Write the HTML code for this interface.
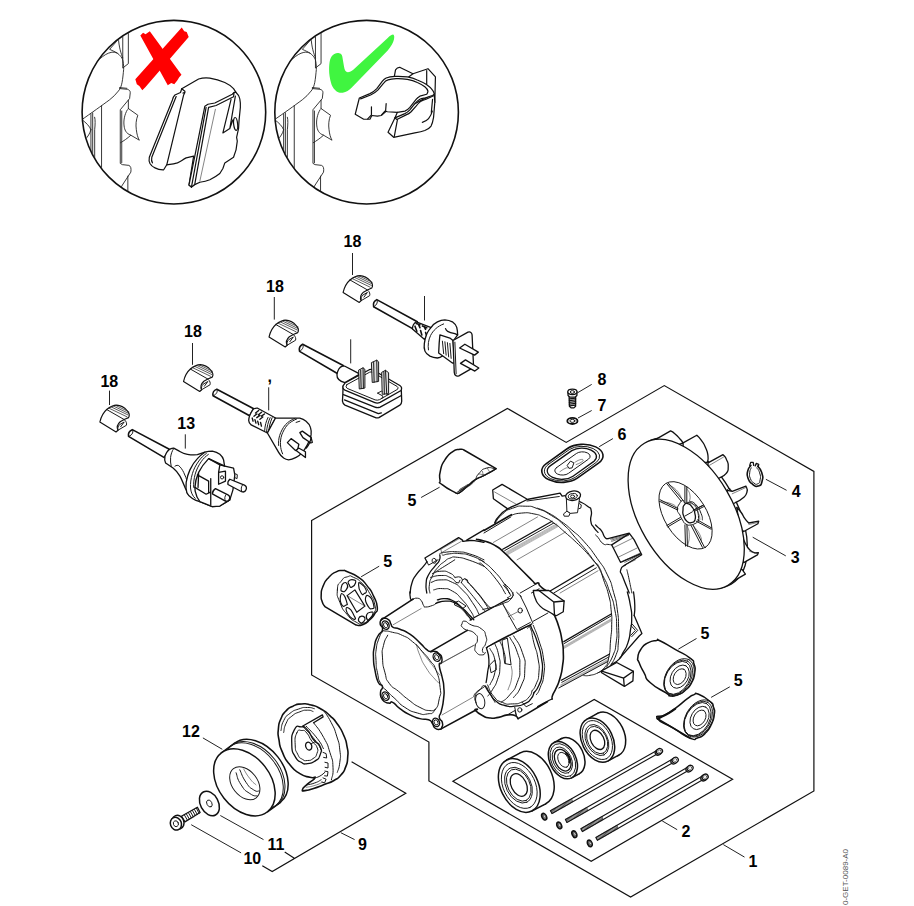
<!DOCTYPE html>
<html>
<head>
<meta charset="utf-8">
<title>Motor exploded view</title>
<style>
html,body{margin:0;padding:0;background:#fff;}
body{width:914px;height:906px;overflow:hidden;font-family:"Liberation Sans",sans-serif;}
svg{display:block;}
.k{fill:none;stroke:#111;stroke-width:1.3;stroke-linejoin:round;stroke-linecap:round;}
.t{fill:none;stroke:#1a1a1a;stroke-width:1;stroke-linejoin:round;stroke-linecap:round;}
.h{fill:none;stroke:#333;stroke-width:0.6;stroke-linejoin:round;stroke-linecap:round;}
.w{fill:#fff;stroke:#111;stroke-width:1.3;stroke-linejoin:round;stroke-linecap:round;}
.wt{fill:#fff;stroke:#1a1a1a;stroke-width:1;stroke-linejoin:round;stroke-linecap:round;}
.f{fill:none;stroke:#111;stroke-width:1.2;stroke-linejoin:miter;stroke-linecap:butt;}
.l{fill:none;stroke:#222;stroke-width:1;}
.n{font-family:"Liberation Sans",sans-serif;font-weight:bold;font-size:16px;fill:#000;text-anchor:middle;}

.k,.t,.h,.w,.wt{vector-effect:non-scaling-stroke;}
#c1>path.wt,#c1>path.t,#c1>ellipse.t,#c2 path.wt,#c2 path.t{stroke-width:1.2;stroke:#111;}
#hous path{stroke-width:.9;stroke:#222;}
</style>
</head>
<body>
<svg width="914" height="906" viewBox="0 0 914 906">
<rect x="0" y="0" width="914" height="906" fill="#fff"/>

<!-- FRAMES -->
<g id="frames">
<path class="f" d="M311.6 520.5 L507.4 408.4 L566.2 442.4 L664.3 385.6 L813.9 471.4 L813.9 791 L630.6 897 L428.9 781 L428.9 742 L311.6 675 Z"/>
<path class="f" d="M452.9 781.3 L594.2 699.5 L732.6 779.3 L591.2 861.2 Z"/>
</g>

<!-- CIRCLES -->
<g id="circles">
<circle cx="173.9" cy="112.2" r="91.8" class="k" style="stroke-width:1.6"/>
<circle cx="366.6" cy="112.2" r="91.8" class="k" style="stroke-width:1.6"/>
</g>


<!-- CIRCLE1 CONTENT -->
<defs>
<clipPath id="cc1"><circle cx="456.5" cy="450" r="366"/></clipPath>
<clipPath id="cc2"><circle cx="456.5" cy="450" r="366"/></clipPath>
</defs>
<g id="c1" class="z" transform="translate(60 0) scale(.24945)">
<g id="hous" clip-path="url(#cc1)">
<!-- housing -->
<path class="t" d="M251.6 120 L251.6 272.7 L274 255 L274 120"/>
<path class="t" d="M234 150 C236 190 245 215 251.6 232"/>
<path class="t" d="M232 160 L199 197.7 C212 204 222 208 229 212.7 C240 220 248 230 251.6 240 C256 260 256 275 254 290 C252 310 250 328 246.6 340 C243 352 240 358 234 365 C224 378 212 390 199 400 C165 425 130 450 80 485"/>
<path class="t" d="M160 236 C175 222 190 213 205 210 C215 208 222 210 229 212.7"/>
<path class="t" d="M239 355 L270 358 C278 360 282 365 281.6 372 L279 395 L241.6 440 L241.6 655 L250 660 L276 663 C284 666 286 675 284 690 L250 742 L235 770"/>
<path class="t" d="M239 351 L268 354"/>
<path class="t" d="M274 402 L274 436"/>
<path class="t" d="M247.5 445 L247.5 652"/>
<path class="t" d="M272 706 L272 800"/>
<path class="t" d="M166.6 424 L166.6 700"/>
<path class="t" d="M124 457 L124 640 M131 452 L131 640"/>
<path class="t" d="M139 470 C142 480 141 500 139 520 L139 640"/>
<path class="t" d="M88 480 C105 492 118 505 124 520 M100 560 C112 548 120 535 124 520"/>
<!-- tab -->
<path class="t" d="M274 435 L312 462 C305 480 303 500 306 520 C308 538 312 552 318 562 L284 542"/>
<path class="t" d="M270 440 C258 460 254 485 257 505 C259 520 264 535 284 542 C270 555 255 565 243 572"/>
</g>
<!-- clip part (wrong) -->
<path class="wt" d="M488 355.6 L555.7 316.6 C570 312 585 311 600.7 313 C622 316 642 322 660.7 330.6 C675 337 688 347 695.7 355.6 L705.7 370.6 C714 378 719 386 720.7 395.6 C723 407 723.5 418 723 430.6 L718 480.6 L715.7 515.6 L708 550.6 L710.7 565.6 L705.7 600.6 L695.7 630.6 L660.7 653 L653 675.6 L640.7 695.6 C628 706 614 714 600.7 720.6 C588 726 574 729 560.7 730.6 L540 740 L527 750 L517 742 L535.7 625.6 L505.7 633 C492 640 482 648 470.7 653 C456 658 442 659 428 660.6 L415.7 680.6 C402 681 390 678 380.7 673 C370 668 364 662 360.7 655.6 C357 648 356 640 358 630.6 L450.7 400.6 C453 392 456 385 460.7 380.6 L483 370.6 Z"/>
<path class="t" d="M488 355.6 L500.7 365.6 L500.7 370.6 L493 373 M500.7 370.6 L495.7 380.6 L428 660.6"/>
<path class="t" d="M465.7 387 L368 630.6 C366 640 367 648 370.7 653"/>
<path class="wt" d="M580.7 425.6 L517 742 L527 750 L540 740 L595.7 430.6 L625.7 423 L695.7 388 L698 370.6 L690.7 378 L620.7 413 L593 418 Z"/>
<path class="t" d="M585.7 430.6 L527 750"/>
<path class="t" d="M698 370.6 L705.7 370.6"/>
<path class="h" d="M623 438 L560.7 725.6"/>
<path class="t" d="M685.7 398 L653 533 L680.7 515.6 L693 480.6 M703 385.6 L680.7 515.6"/>
<ellipse class="t" cx="704" cy="497" rx="8" ry="26" transform="rotate(-6 704 497)"/>
<!-- red X -->
<path d="M322 142 L333 131 L343 137 L360 125 L487 300 L478 310 L470 323 L458 338 L446 333 L432 342 Z" fill="#f00"/>
<path d="M488 110 L498 125 L508 128 L516 148 L342 350 L330 362 L318 345 L308 338 L302 318 Z" fill="#f00"/>
</g>


<!-- CIRCLE2 CONTENT -->
<g class="z" transform="translate(252.7 0) scale(.24945)"><use href="#hous"/></g>
<g id="c2" class="z" transform="translate(345 50) scale(.12473)">
<!-- back panel -->
<path class="wt" d="M395 215 L405 160 C415 145 428 138 442 140 L545 190 L665 150 L725 215 L720 420 L655 330 Z"/>
<path class="t" d="M655 165 L655 275 M545 190 L510 216"/>
<!-- front right panel -->
<path class="wt" d="M400 545 L345 660 L390 700 L560 665 C595 658 620 652 640 645 C665 635 682 622 690 610 C700 590 706 565 710 540 L720 420 L715 350 L560 430 Z"/>
<path class="t" d="M400 545 L420 560 L395 695"/>
<path class="t" d="M620 580 C645 572 660 562 670 550 C685 532 694 512 700 490"/>
<path class="t" d="M702 395 L692 500"/>
<!-- main arc -->
<path class="wt" d="M115 385 L200 350 C222 340 240 326 255 310 L300 250 C310 238 320 230 330 225 C352 216 375 213 400 212 C435 211 468 212 500 215 C528 220 555 228 580 240 C605 250 630 262 650 275 C672 290 690 305 700 320 C708 330 713 340 715 350 C712 358 707 362 700 365 L640 385 C625 388 612 390 600 395 C585 404 572 416 560 430 L520 480 C508 494 495 503 480 510 L410 540 L400 545 L420 500 L340 495 L320 490 L290 525 L260 530 L215 525 L200 555 L150 555 L82 515 Z"/>
<path class="t" d="M125 392 L205 361 C228 350 250 336 265 320 L310 265 C320 252 332 244 345 240 C366 233 388 231 410 230 C440 229 470 231 500 235 C528 240 555 248 580 260 C603 270 624 282 640 295 C655 308 664 318 665 330 C664 342 660 350 655 355 L600 370 C588 377 578 385 570 395 L520 460 C508 474 495 484 480 490 L420 500"/>
<path class="t" d="M715 365 L650 395 C635 399 622 403 610 410 C595 421 582 434 570 450 L530 495 C518 507 505 515 490 520 L420 555"/>
<path class="t" d="M212 455 L212 520 L182 552 M330 430 L325 495 L295 522"/>
</g>
<!-- check -->
<g class="z" transform="translate(253 0) scale(.24945)">
<path d="M345 213 C352 214 357 218 358 226 L365 268 C367 282 372 290 380 290 C388 290 394 286 402 280 L540 152 C548 144 556 138 562 138 C567 140 567 148 565 158 C562 172 552 188 540 202 L395 352 C385 362 374 370 360 372 C347 373 338 370 330 362 C320 352 315 343 313 333 C308 315 305 298 305 280 C305 265 306 252 309 240 C312 228 318 220 326 216 C332 213 339 212 345 213 Z" fill="#40f540"/>
</g>


<!-- PLUGS -->
<defs>
<g id="clip18">
<path class="w" style="stroke-width:1.15" d="M160 200 C135 222 115 258 105 300 L235 380 L250 366 C240 345 246 318 268 298 L300 280 L335 265 C345 250 340 228 325 210 C300 182 270 166 240 165 C210 166 185 180 160 200 Z"/>
<path class="t" d="M250 366 L318 326 C322 312 318 296 305 285 M250 366 C246 348 252 332 262 322 L300 300 L272 338"/>
<path class="h" style="stroke-width:.8" d="M180 190 L322 258 M198 180 L332 244 M214 172 L338 232 M232 167 L338 218"/>
<path class="t" d="M160 200 L300 280"/>
</g>
</defs>
<g id="plugUS">
<g class="z" transform="translate(330 255) scale(.12473)">
<use href="#clip18"/>
<path class="w" style="stroke-width:1.6" d="M375 358 L700 535 L665 592 L350 415 C345 395 352 370 375 358 Z"/>
<path class="t" d="M375 358 C385 372 380 398 352 414"/>
</g>
<g class="z" transform="translate(400 295) scale(.12473)">
<path class="w" d="M130 215 L250 262 L197 357 L100 272 C100 250 110 228 130 215 Z"/>
<path class="k" d="M120 250 L135 290 M150 240 L160 262 M165 285 L175 320 M195 255 L205 275 M205 300 L215 330 M130 228 L160 238 M180 248 L215 262" style="stroke-width:1.6"/>
<path class="w" d="M250 260 C262 238 280 225 300 215 C320 205 340 200 360 200 C385 202 405 208 420 215 C438 228 450 243 455 260 C460 280 462 300 462 320 L340 490 C328 500 315 505 300 505 C278 503 258 498 240 490 C220 478 206 466 200 450 C193 430 192 410 195 390 C198 362 205 336 215 310 C224 292 236 275 250 260 Z"/>
<path class="t" d="M228 440 C222 400 228 360 245 325 C265 285 300 250 350 232"/>
<path class="k" d="M365 270 C368 280 374 287 382 291 C400 300 420 305 440 310 L462 320"/>
<path class="w" d="M320 320 L400 345 L425 365 L440 545 L420 545 L310 465 C312 415 315 365 320 320 Z"/>
<path class="t" d="M340 370 L350 470 M360 375 L370 482 M380 382 L390 496 M400 388 L410 508"/>
<path class="w" d="M425 365 L545 298 C565 292 576 302 578 320 L590 580 L472 648 C450 655 438 645 435 620 Z"/>
<path class="t" d="M440 378 L450 632"/>
<path class="w" d="M478 425 L520 395 L628 458 L598 482 Z"/>
<path class="w" d="M485 548 L525 520 L632 585 L600 610 Z"/>
</g>
</g>


<g id="plugUK">
<g class="z" transform="translate(255.9 299.6) scale(.12473)">
<use href="#clip18"/>
<path class="w" style="stroke-width:1.6" d="M375 358 L700 528 L660 597 L350 415 C345 395 352 370 375 358 Z"/>
<path class="t" d="M375 358 C385 372 380 398 352 414"/>
</g>
<g class="z" transform="translate(320 345) scale(.12473)">
<path class="w" d="M180 170 C160 176 142 200 136 238 C134 268 158 290 200 302 L312 238 L306 226 L200 170 Z"/>
<path class="w" d="M185 330 L183 395 L180 450 C182 465 188 475 200 482 L440 580 C452 586 462 586 472 582 L640 482 C650 474 655 462 655 450 L652 365 Z"/>
<path class="k" d="M188 398 L440 498 C455 504 468 504 482 498 L652 405 M196 440 L468 550 L492 544"/>
<path class="w" d="M200 305 L395 198 Q410 192 425 200 L640 325 Q662 340 650 365 L482 460 Q460 470 440 462 L200 362 Q178 350 186 325 Z"/>
<path class="t" d="M215 318 L398 218 Q410 213 422 219 L618 332 Q632 342 622 355 L478 438 Q460 446 442 440 L218 348 Q200 338 215 318 Z"/>
<path class="t" d="M462 386 L492 370 L545 398 M462 386 L505 410 L495 430"/>
<path d="M312 200 L345 183 L360 195 L360 345 L318 352 Z" fill="#dcdcdc"/>
<path class="t" d="M312 200 L345 183 L360 195 L360 345 L318 352 Z M326 200 L330 350 M345 183 L348 347"/>
<path d="M415 140 L455 122 L470 135 L470 292 L422 300 Z" fill="#dcdcdc"/>
<path class="t" d="M415 140 L455 122 L470 135 L470 292 L422 300 Z M430 140 L434 298 M455 122 L458 294"/>
<path d="M497 218 L525 203 L550 222 L550 390 L502 395 Z" fill="#dcdcdc"/>
<path class="t" d="M497 218 L525 203 L550 222 L550 390 L502 395 Z M512 215 L516 394 M525 203 L535 392"/>
</g>
</g>


<g id="plugAU">
<g class="z" transform="translate(170.4 344.1) scale(.12473)">
<use href="#clip18"/>
<path class="w" style="stroke-width:1.6" d="M372 362 L668 518 L635 575 L342 414 C337 394 347 370 372 362 Z"/>
<path class="t" d="M372 362 C382 376 374 400 345 414"/>
</g>
<g class="z" transform="translate(225 385) scale(.12473)">
<path class="w" d="M225 195 C240 186 252 184 262 186 L405 265 L340 385 L210 320 C196 308 190 295 190 285 C190 262 198 235 225 195 Z"/>
<path class="k" style="stroke-width:1.4" d="M245 225 L270 205 M268 238 L293 218 M292 250 L316 232 M218 265 L225 290 M240 278 L248 305 M262 290 L270 318 M285 300 L292 330 M232 250 L255 232 M255 262 L280 244 M280 275 L303 257"/>
<path class="t" d="M345 260 C330 290 320 325 318 365 M362 262 C346 295 336 335 333 378 M378 262 C362 300 352 340 349 384"/>
<path class="w" d="M405 265 L600 265 C625 272 640 282 650 290 C668 305 680 322 685 340 C692 360 692 380 690 400 C684 430 674 456 660 480 C648 502 636 522 620 540 C605 558 588 572 570 580 C550 590 530 598 510 600 C495 598 482 593 470 585 C452 570 438 556 430 540 L340 385 Z"/>
<path class="t" d="M575 272 C545 285 520 300 500 320 C480 345 466 372 455 400 C446 428 443 455 445 480 C446 508 452 530 462 552"/>
<path class="t" d="M560 268 C530 280 505 296 485 318 C462 345 448 375 438 405 C430 432 428 458 430 485"/>
<path class="t" d="M570 300 L600 290"/>
<path class="w" d="M600 382 L620 370 L690 420 L700 460 L688 465 L625 422 Z"/>
<path class="k" d="M690 420 C686 455 672 482 652 505"/>
<path class="w" d="M500 462 L530 430 L592 475 L582 520 L565 525 Z"/>
<path class="w" d="M570 525 L590 505 L645 535 L645 582 Z"/>
</g>
</g>
<g id="plugEU">
<g class="z" transform="translate(86.75 384.6) scale(.12473)">
<use href="#clip18"/>
</g>
<g class="z" transform="translate(88 385) scale(.12473)">
<path class="w" style="stroke-width:1.6" d="M355 358 L652 515 L612 582 L325 412 C320 392 330 366 355 358 Z"/>
<path class="t" d="M355 358 C367 372 360 398 328 412"/>
</g>
<g class="z" transform="translate(150 420) scale(.12473)">
<path class="w" d="M150 240 C165 228 178 224 190 225 L235 250 C260 265 280 272 300 275 C330 280 356 280 380 278 L440 258 L400 655 L300 590 C296 572 290 556 280 540 C268 510 256 480 240 450 C226 426 208 404 185 385 L125 345 C118 328 116 308 120 290 C126 270 136 252 150 240 Z"/>
<path class="t" d="M190 228 C176 250 168 275 165 300 C163 325 165 348 170 372"/>
<path class="t" d="M200 370 C212 362 222 362 230 366 C248 380 260 400 270 420 C284 448 294 475 300 500"/>
<path class="w" d="M440 258 C460 252 480 250 500 250 C522 254 543 262 560 275 C575 288 585 303 590 320 L640 640 L560 690 L500 695 L440 670 L400 655 C378 650 358 642 340 630 C318 616 302 600 295 580 C288 555 287 528 290 500 C296 465 306 430 320 400 C336 365 356 335 380 310 C398 290 418 272 440 258 Z"/>
<path class="t" d="M452 268 C428 285 408 305 392 328 C368 360 350 395 340 430 C328 470 322 510 325 545 C328 580 340 608 362 628"/>
<path class="t" d="M468 276 C445 292 425 312 410 335 C388 366 372 400 362 435 C352 472 348 508 350 540"/>
<path class="w" d="M470 310 L600 370 L670 385 L680 440 L665 560 L640 640 L560 690 L500 695 L440 670 L400 655 C380 630 368 600 362 570 L360 540 C362 500 372 460 390 420 C410 380 436 345 470 310 Z"/>
<path class="k" d="M470 310 L560 360 L600 370 M560 360 L550 420 M487 470 L487 680 M380 440 L470 490 L470 585 M360 540 L450 595 L480 580 M390 430 L385 540"/>
<path class="k" d="M550 420 L605 410 L605 490 L550 515 Z"/>
<circle class="t" cx="578" cy="460" r="13"/>
<path class="t" d="M680 430 L700 438 L698 470 L680 462"/>
<path class="w" d="M640 475 L757 522 C772 530 776 545 770 560 C764 575 750 580 735 575 L625 517 C622 500 628 485 640 475 Z"/>
<path class="t" d="M742 520 C730 535 728 555 736 574"/>
<path class="w" d="M525 550 L625 600 C640 608 642 622 636 636 C630 650 618 654 605 650 L500 592 C500 575 510 560 525 550 Z"/>
<path class="t" d="M610 598 C598 612 596 632 604 648"/>
</g>
</g>

<!-- MOTOR -->
<path class="h" d="M416.4 644.4 C417.6 648 416.6 647.5 419.9 655.4 C423.1 663.2 421.1 659.9 426.1 667.8 C431.1 675.7 430.5 674 434.9 679.1 C439.3 684.1 437.9 681.7 439.3 683.1"/>
<path class="h" d="M417.1 645.1 C419.7 648.5 419.8 648.6 424.9 655.4 C430 662.1 428 659.5 432.4 665.3 C436.7 671.2 435.4 669.5 438 672.8 C440.6 676.2 439.4 674.5 440.1 675.3"/>
<path class="k" d="M381.2 619.8 C380 621.8 379.8 620.9 380.2 624.2 C380.6 627.5 383.4 625.6 382.5 629.8 C381.6 634 380.2 631 377.5 636.7 C374.8 642.3 375.7 639.6 374.4 646.6 C373 653.7 373.3 650 373.5 657.9 C373.7 665.8 373.4 662.2 375 670.3 C376.6 678.4 375.7 676.8 378.2 682.2 C380.7 687.6 381.7 683.1 382.5 686.5 C383.2 690 380.5 688 380.5 692.4 C380.5 696.9 379.7 696.3 382.5 699.9 C385.2 703.5 385.3 702.3 388.7 703.1 C392.1 704 389 700.6 392.7 702.4 C396.4 704.2 394.2 704.5 399.9 708.6 C405.7 712.8 403.3 711.5 409.9 714.9 C416.6 718.2 413.7 716.9 419.9 718.6 C426.1 720.3 424.5 718.2 428.6 719.8 C432.8 721.5 430.3 720.9 432.4 723.6 C434.4 726.3 432.4 726 434.9 728 C437.3 729.9 437.3 729.5 439.6 729.3 C441.9 729.1 440.9 729.7 441.8 727.3 C442.8 725 443.2 725.7 442.3 722.3 C441.5 719 439.7 721.1 439.3 717.4 C439 713.6 439.9 717.4 441.3 711.1 C442.8 704.9 442.8 706.5 443.6 698.6 C444.4 690.7 444.3 694.4 443.8 687.4 C443.4 680.5 443.8 685.1 442.3 677.8 C440.8 670.5 439.7 670.6 439.3 665.6 C439 660.6 440.5 665.4 441.3 662.8 C442.2 660.3 442.5 660.9 441.8 657.9 C441.1 654.9 441.6 656 439.2 653.9 C436.9 651.7 437.8 652.1 434.9 651.4 C431.9 650.6 433.4 652.4 430.5 651.6 C427.6 650.9 429.7 652 426.1 649.1 C422.6 646.2 425.3 647.9 419.9 642.9 C414.5 637.9 416.6 638.7 409.9 634.2 C403.3 629.6 405.5 631.5 399.9 629.2 C394.3 626.9 396.1 629 393.1 627.3 C390.1 625.6 392.4 626.7 391 624.2 C389.5 621.7 391 621.8 388.7 619.8 C386.4 617.9 386.5 618.3 384 618.3 C381.5 618.3 382.5 617.9 381.2 619.8Z" style="stroke-width:1.5"/>
<path class="t" d="M382.5 631.7 C380.4 634.4 380.8 633.3 378.7 639.1 C376.7 645 377.2 642.1 376.2 649.1 C375.3 656.2 375.6 652.5 376 660.4 C376.4 668.3 375.8 664.9 377.5 672.8 C379.1 680.7 377.6 677.8 381 684.1 C384.3 690.3 382.8 686.7 387.5 691.5 C392.1 696.4 389.1 693.4 394.9 698.6 C400.8 703.9 397.4 702.6 404.9 707.4 C412.4 712.2 409.9 710.8 417.4 713 C424.9 715.1 421.6 714.8 427.4 713.9 C433.2 712.9 430.9 715.2 434.9 710.1 C438.8 705 437.6 706.2 439.3 698.6 C441.1 691.1 441.2 696.9 440.1 687.4 C439 678 439.5 679.4 436.1 670.3 C432.7 661.3 434.4 666.6 429.9 660.4 C425.3 654.1 428.2 657.9 422.4 651.6 C416.6 645.4 419.1 647 412.4 641.6 C405.8 636.2 409.1 638.5 402.4 635.4 C395.8 632.3 398.3 633.7 392.5 632.3 C386.6 630.8 388.3 631.2 385 631 C381.6 630.8 384.6 629 382.5 631.7Z"/>
<path class="t" d="M387.7 635.2 C386.3 638.6 385.2 637.8 383.5 645.4 C381.7 653 382 648.7 382.5 657.9 C383 667 382.7 664.3 385 672.8 C387.3 681.3 384.8 677.2 389.3 683.4 C393.9 689.7 392.2 686 398.7 691.5 C405.1 697 401.6 694.6 408.7 699.9 C415.7 705.2 412.8 703.8 419.9 707.4 C427 710.9 424.7 710.1 429.9 710.6 C435 711.2 433.5 709.5 435.4 709"/>
<ellipse class="k" cx="385.6" cy="625.2" rx="3.4" ry="4.4" transform="rotate(-25 385.6 625.2)"/>
<ellipse class="t" cx="385.6" cy="625.2" rx="1.9" ry="2.7" transform="rotate(-25 385.6 625.2)"/>
<ellipse class="k" cx="436.7" cy="657.2" rx="3.4" ry="4.4" transform="rotate(-25 436.7 657.2)"/>
<ellipse class="t" cx="436.7" cy="657.2" rx="1.9" ry="2.7" transform="rotate(-25 436.7 657.2)"/>
<path class="k" d="M381.2 619.8 L413 599.2" style="stroke-width:1.6"/>
<path class="h" d="M393.1 624.8 L421.1 608.6"/>
<path class="k" d="M430.5 651.6 L467.3 630.4" style="stroke-width:1.6"/>
<path class="h" d="M442.3 662.8 L473.5 645.4"/>
<ellipse class="k" cx="385.6" cy="696.2" rx="3.4" ry="4.4" transform="rotate(-25 385.6 696.2)"/>
<ellipse class="t" cx="385.6" cy="696.2" rx="1.9" ry="2.7" transform="rotate(-25 385.6 696.2)"/>
<ellipse class="k" cx="436.1" cy="722.4" rx="3.4" ry="4.4" transform="rotate(-25 436.1 722.4)"/>
<ellipse class="t" cx="436.1" cy="722.4" rx="1.9" ry="2.7" transform="rotate(-25 436.1 722.4)"/>
<path class="k" d="M441.1 728.9 L477.3 709.3" style="stroke-width:1.6"/>
<path class="h" d="M442.1 714.9 L472.5 697.5"/>
<path class="k" d="M410.2 593 C410.7 589.8 409.8 589.6 411.8 583.5 C413.8 577.5 412.2 580.6 416.1 574.8 C420.1 569 420.1 570.4 423.6 566.1 C427.2 561.7 425.8 563.2 426.9 561.7"/>
<path class="k" d="M426.9 561.7 L424.9 558 L458.6 537.6 L462.5 540.1 L463 541.4"/>
<path class="k" d="M463 541.4 C465.3 541.1 465 540.6 469.8 540.5 C474.5 540.4 472.5 540.5 477.3 541.1 C482 541.7 481.8 541.9 484 542.4"/>
<path class="k" d="M466.7 540.1 L484 529.9"/>
<path class="t" d="M426.9 561.7 L428.6 565.1 L438 559.8"/>
<ellipse class="t" cx="434.2" cy="560.8" rx="2.1" ry="2.5" transform="rotate(-20 434.2 560.8)"/>
<path class="h" d="M440.8 549.3 L459.3 538.6 M441.7 552.6 L461.3 541.4 M440.8 549.3 L442.3 554.8"/>
<path class="t" d="M439.8 553.8 C441.5 553.3 439 553 444.8 552.3 C450.7 551.7 449 551.3 457.3 551.8 C465.6 552.4 460.9 551.3 469.8 554 C478.7 556.6 479.3 557.9 484 559.8"/>
<path class="t" d="M443 555.3 C445.3 554.8 444.2 554.4 449.8 553.8 C455.4 553.3 452.7 552.9 459.8 553.6 C466.9 554.3 463 553.1 471 555.8 C479.1 558.5 479.7 559.7 484 561.7"/>
<path class="k" d="M426.8 593 C426.5 589.8 425.5 589.6 426.1 583.5 C426.8 577.5 425.7 580.6 428.6 574.8 C431.5 569 431.3 570.8 434.9 566.1 C438.4 561.3 437.7 564.2 439.3 560.4 C441 556.7 439.7 556.7 439.8 554.8"/>
<path class="t" d="M429.9 593 C429.7 590.3 428.5 590.4 429.4 584.8 C430.2 579.1 429.5 581.9 432.4 576 C435.2 570.2 433.8 572.2 438 567.3 C442.1 562.4 440.9 564.4 444.8 561.3 C448.8 558.3 445.7 559.5 449.8 558.2 C454 556.9 450.7 556.6 457.3 557.3 C464 558.1 460.9 557.5 469.8 560.4 C478.7 563.4 479.3 564.4 484 566.3"/>
<path class="t" d="M434.9 572.3 C438.2 570.2 438.2 570.2 444.8 566.1 C451.5 561.9 451.5 561.9 454.8 559.8"/>
<path class="k" d="M409.9 591.8 C410 593.4 409.7 594.2 410.2 596.7 C410.6 599.3 410.2 598.7 411.2 599.5 C412.1 600.3 412.4 599.3 413 599.2"/>
<path class="t" d="M413 599.2 C414.5 598.9 414.7 597.8 417.4 598.2 C420.1 598.7 419.1 598.1 421.1 600.5 C423.2 602.9 422.1 603.3 423.6 605.5 C425.1 607.6 422.7 607 425.6 607 C428.5 607 429 606.6 432.4 605.5 C435.7 604.4 434.5 604.2 435.6 603.6"/>
<path class="k" d="M435.6 603.6 C437 603.1 435.9 602.8 439.8 602 C443.8 601.1 442.3 600.8 447.3 601.1 C452.3 601.4 449.8 600.7 454.8 603 C459.8 605.3 457.3 603.8 462.3 608 C467.3 612.1 466 611.5 469.8 615.5 C473.6 619.4 472.4 618.4 473.8 619.8"/>
<path class="t" d="M432.4 573.7 C435.3 572.8 435.3 571.4 441.2 571.2 C447 571 445.3 571 449.9 573.1 C454.5 575.1 453.2 576 454.9 577.4"/>
<path class="t" d="M454.9 577.4 L458.6 576.8 L461.1 577.4 L462.4 579.9 L464.9 578.7 L467.4 579.9 L468 582.4"/>
<path class="t" d="M468 582.4 C471.1 585.7 470.9 584.9 477.3 592.4 C483.8 599.9 482.7 599.6 487.3 604.9 C492 610.1 490 607 491.3 608.1"/>
<path class="t" d="M430.6 577.4 C434.1 576.8 434.7 575.5 441.2 575.5 C447.6 575.5 444.9 575.1 449.9 577.4 C454.9 579.7 454 580.7 456.1 582.4"/>
<path class="t" d="M456.1 582.4 L458.6 583 L459.9 580.2 M462.4 580.2 L461.4 582.7"/>
<path class="t" d="M461.4 582.7 C464.2 585.9 463.7 585 469.8 592.4 C476 599.8 474.8 598.5 479.8 604.9 C484.9 611.2 483.3 609.2 485.1 611.3"/>
<path class="t" d="M464.9 578.9 C467.8 582.2 467.4 581.2 473.6 588.6 C479.8 596 478.5 594 483.6 601.1 C488.6 608.2 487.1 606.9 488.8 609.8"/>
<path class="t" d="M431.2 582.4 C434.5 581.6 434.1 579.9 441.2 579.9 C448.2 579.9 445.3 579.1 452.4 582.4 C459.5 585.7 455.7 583.2 462.4 589.9 C469 596.5 466.9 594.4 472.3 602.4 C477.8 610.3 476.7 610 478.8 613.8"/>
<path class="t" d="M433.7 589.9 C436.6 589.5 436.2 588.2 442.4 588.6 C448.6 589.1 445.7 587.4 452.4 591.1 C459 594.9 456.5 593.6 462.4 599.9 C468.2 606.1 466 604.2 469.8 609.8 C473.7 615.5 472.5 614.5 473.8 616.8"/>
<path class="k" d="M437.4 599.9 C439.9 599.5 439.5 598.2 444.9 598.6 C450.3 599 448.2 598.2 453.6 601.1 C459 604 456.5 602.8 461.1 607.4 C465.7 611.9 463.9 610.7 467.4 614.8 C470.8 619 470 618.2 471.3 619.8"/>
<path class="t" d="M454.9 602.4 L458.6 601.1 L466.1 606.1 L462.4 608.6 L454.9 605.1 Z"/>
<path class="h" d="M456.1 604.9 C458.2 606.5 458.6 606.1 462.4 609.8 C466.1 613.6 465.7 614 467.4 616.1"/>
<path class="k" d="M508.8 598.6 L474.8 617.3 L470.1 620.1"/>
<path class="t" d="M504.8 583.9 C507.3 586.7 509.9 587.9 512.3 592.4 C514.6 596.9 512.9 595.3 511.8 597.4 C510.6 599.5 509.8 598.2 508.8 598.6"/>
<path class="t" d="M503.5 585.2 C505.6 588 507.8 589.9 509.8 593.6 C511.8 597.4 510.3 595 509.5 596.4 C508.7 597.7 508 597.2 507.3 597.6"/>
<path class="h" d="M502.3 603.9 L514 619.8"/>
<path class="h" d="M440 663.6 L474.9 644.9"/>
<path class="t" d="M467.4 630.5 C465.8 629.5 464.3 629.6 462.5 627.4 C460.6 625.2 461.1 626 462 623.9 C462.8 621.8 461.9 620.8 464.9 621.2 C468 621.5 465.8 622.4 471.2 624.9 C476.6 627.4 476.3 624.9 481.2 628.7 C486.1 632.4 484.4 631.2 485.9 636.1 C487.4 641.1 486.7 639.5 485.6 643.6 C484.6 647.8 483.5 645.6 482.7 648.6 C481.8 651.6 483 651.3 483.2 652.6"/>
<path class="t" d="M467.7 630.2 C470.1 631.3 471.7 630.4 474.9 633.7 C478.2 636.9 477.3 635.7 477.4 639.9 C477.5 644 475.5 642 475.2 646.1 C474.8 650.3 474 649.5 476.4 652.4 C478.8 655.3 479.5 654.9 482.4 654.9 C485.3 654.9 484.2 653.2 485.2 652.4"/>
<path class="t" d="M486.4 647.4 L502.4 639.3 L529.8 625.2"/>
<path class="k" d="M486.4 647.6 C487.2 651.7 488.5 651.6 488.9 659.8 C489.3 668.1 488.6 664.8 487.6 672.3 C486.7 679.9 486.6 679.1 486.1 682.5"/>
<path class="t" d="M489.9 648.6 C491.6 652.4 493.2 651.9 494.9 659.8 C496.5 667.7 496.5 664 494.9 672.3 C493.2 680.6 491.6 680.6 489.9 684.8"/>
<path class="t" d="M489.9 664.8 L494.9 659.8 L496.4 669.8 L491.4 672.6 Z"/>
<path class="t" d="M494.9 643.9 C496.1 647.5 497 647 498.6 654.9 C500.3 662.7 500.3 659 499.9 667.3 C499.5 675.6 499.9 672.3 497.4 679.8 C494.9 687.3 495.5 684.4 492.4 689.8 C489.2 695.2 489.4 693.9 487.9 696"/>
<path class="t" d="M502.4 640.1 L507.4 638.1 L511.1 664.8 L505.1 663.6 Z"/>
<path class="t" d="M499.9 641.4 C501.3 645 502.3 645 504.2 652.4 C506.1 659.8 505.1 659.8 505.6 663.6"/>
<path class="t" d="M509.8 637.4 C512.3 642.4 514 642.4 517.3 652.4 C520.7 662.3 519.8 657.4 519.8 667.3 C519.8 677.3 520.7 673.2 517.3 682.3 C514 691.4 515.3 688.1 509.8 694.8 C504.4 701.4 504 699.8 501.1 702.3"/>
<path class="t" d="M513.6 635.9 C516.5 641.4 518.6 641.1 522.3 652.4 C526.1 663.7 525.2 658.6 524.8 669.8 C524.4 681.1 524.8 676.8 521.1 686 C517.3 695.3 516.1 693.7 513.6 697.5"/>
<path class="h" d="M511.3 666.1 C511.5 669.8 512.8 669.4 511.7 677.3 C510.6 685.2 509.2 685.6 508 689.8"/>
<path class="t" d="M476.2 703 C475.8 700.7 473.9 700.4 475.2 696 C476.4 691.6 476.7 693.1 479.9 689.8 C483.2 686.5 481.6 684.8 484.9 686 C488.2 687.3 486.6 688.1 489.9 693.5 C493.2 698.9 493.2 699.3 494.9 702.3"/>
<path class="k" d="M507.7 508.9 L493.4 498.7 L492.7 490 L502.1 484.4 L526.4 498.7"/>
<path class="h" d="M494.6 492 L517.4 504.9"/>
<path class="k" d="M494.6 523 C496.1 520.7 494.6 520.9 499 516.2 C503.3 511.5 501 513.1 507.7 508.9 C514.4 504.8 512.5 506.9 518.9 503.7 C525.4 500.5 524.3 500.9 527 499.5"/>
<path class="k" d="M527 499.5 L560.1 493.1 L562.1 496.2 L565.3 495.7"/>
<path class="t" d="M527 501 L559.3 496.5"/>
<path class="k" d="M579 501.2 C581.9 502.9 583.4 502.9 587.5 506.2 C591.6 509.5 590.2 506.2 591.3 511.2 C592.3 516.2 589.9 515.8 590.8 521.2 C591.6 526.6 591.3 523.7 593.8 527.4 C596.2 531.1 596.6 530.7 598 532.4"/>
<path class="t" d="M510.2 515.7 C513.9 514.8 513.5 513.6 521.4 513.1 C529.3 512.5 526.4 512.5 533.9 513.9 C541.4 515.4 537.2 514.4 543.9 517.4 C550.5 520.5 546.8 518 553.8 523 C560.9 528 557.6 525.9 565.1 532.4 C572.6 538.8 569.2 535.7 576.3 542.4 C583.4 549 580.5 546.1 586.3 552.3 C592.1 558.6 589.4 556.1 593.8 561.1 C598.1 566.1 596 561 599.2 567.3 C602.5 573.6 600.5 570.7 603.6 579.9 C606.7 589.1 606.1 584.9 608.6 594.9 C611.1 604.9 610.1 599.9 611.1 609.8 C612.1 619.8 611.9 614.8 611.7 624.8 C611.6 634.8 611.6 628.8 610.6 639.8 C609.6 650.8 610.8 648.5 608.7 657.9 C606.6 667.2 607.9 662.8 604.4 667.8 C600.8 672.8 600.1 671.2 598 672.8"/>
<path class="t" d="M495.2 522.7 C497.7 519.7 496.9 518.7 502.7 513.9 C508.5 509.1 505.2 510.8 512.7 508.2 C520.2 505.6 516.8 506 525.2 506.2 C533.5 506.4 528.9 505.6 537.6 508.7 C546.4 511.8 542.6 510.1 551.4 515.5 C560.1 521 555.9 517.6 563.8 524.9 C571.7 532.2 565.5 526.1 575.1 537.4 C584.6 548.6 583.3 546.2 592.4 558.7 C601.5 571.2 596.5 563.7 602.4 574.9 C608.2 586.1 605.7 580.7 609.8 592.4 C614 604 612.6 598.2 614.8 609.8 C617.1 621.5 616.3 616.2 616.7 627.3 C617.1 638.4 617.3 633.7 616.1 643 C614.8 652.4 616.1 647.4 613 655.4 C609.8 663.3 608.8 663 606.7 666.8"/>
<path class="t" d="M537.6 508.2 C541.4 509.9 541 508.7 548.9 513.2 C556.8 517.6 553.7 515.9 561.3 521.5 C569 527.1 564.4 523.4 571.8 530 C579.2 536.6 575.1 531.7 583.7 541.2 C592.2 550.8 589.5 547.5 597.4 558.7 C605.3 569.9 601.9 563.7 607.4 574.9 C612.8 586.1 610.3 580.7 613.6 592.4 C616.9 604 615.7 598.2 617.3 609.8 C619 621.5 618.2 616.2 618.6 627.3 C618.9 638.4 619.1 633.9 618.3 643 C617.5 652.1 619 646.9 616.2 654.6 C613.4 662.3 612.1 662.3 610 666.1"/>
<path class="k" d="M484 530.5 L511.4 514.7" style="stroke-width:1.6"/>
<path class="t" d="M484 533 L510.9 516.9"/>
<path class="h" d="M493.4 542.4 L537.6 516.9"/>
<path class="k" d="M502.7 549.3 L552 521.2"/>
<path class="t" d="M504.7 550.6 L553.8 523"/>
<g opacity=".55">
<path class="h" d="M506 552.1 L556.3 523.9"/>
<path class="h" d="M506.5 552.7 L556.8 524.5"/>
<path class="h" d="M506.9 553.3 L557.3 525.2"/>
<path class="h" d="M507.4 554 L557.8 525.8"/>
<path class="h" d="M507.9 554.6 L558.3 526.4"/>
</g>
<path class="h" d="M517.1 559.8 L565.7 531.9"/>
<path class="k" d="M550.1 591 L593.8 565.1"/>
<path class="t" d="M553.8 593 L596.3 567.8"/>
<path class="h" d="M560.1 593 L598 570.8"/>
<path class="k" d="M476.5 539.2 C479 539.9 478.2 539.2 484 541.1 C489.8 543 487.3 541.1 494 544.9 C500.6 548.6 497.3 546.5 504 552.3 C510.6 558.2 507.3 555.7 513.9 562.3 C520.6 569 517.7 566.1 523.9 572.3 C530.1 578.5 528.9 577.3 532.6 581 C536.4 584.8 533.2 582.9 535.1 583.5 C537.1 584.2 536.7 582.2 538.4 583 C540 583.9 537.5 583.4 540.1 586 C542.8 588.7 542.8 588.4 546.4 591 C549.9 593.6 549.3 592.8 550.7 593.8" style="stroke-width:1.6"/>
<path class="t" d="M479 559.8 C480.7 560.7 479 558.6 484 562.3 C489 566.1 487.3 564 494 571.1 C500.6 578.1 498.8 576 504 583.5 C509.2 591.1 507.7 590.3 509.6 593.8"/>
<path class="t" d="M479 563.3 C480.7 564.2 478.2 560.6 484 566.1 C489.8 571.5 489.3 570.6 496.5 579.8 C503.6 589 502.5 589.1 505.5 593.8"/>
<path class="t" d="M520.2 593 L536.4 583.8 M531.4 593 L539.1 588.8"/>
<path class="wt" d="M566.3 497.5 L566.9 511.2 L570.1 513.4 L577.5 512.7 L579.5 498.7 Z"/>
<path class="wt" d="M563.8 513.7 L566.9 511.2 L570.1 513.2 L568.8 516.2 L564.6 516.2 Z"/>
<ellipse class="w" cx="573.1" cy="495.7" rx="7.5" ry="4.7" transform="rotate(-8 573.1 495.7)"/>
<ellipse class="t" cx="572.8" cy="496.2" rx="4.5" ry="2.7" transform="rotate(-8 572.8 496.2)"/>
<ellipse class="t" cx="572.6" cy="496.5" rx="2" ry="1.5" transform="rotate(0 572.6 496.5)"/>
<path class="t" d="M579.5 503.7 L581.3 504.9 L580.8 508.1 L578.8 508.7"/>
<path class="k" d="M595.5 524.9 C596.3 525.7 595.9 525.3 598 527.4 C600.1 529.5 599.5 527.8 601.7 531.1 C604 534.5 602.8 534.9 604.9 537.4 C606.9 539.9 606.9 538.2 608 538.6"/>
<path class="k" d="M608 538.6 L629.2 533.1 L634.2 539.9 L641.7 554.8 L625.4 564.8"/>
<path class="k" d="M625.4 564.8 C623.9 566.5 621.5 565.6 620.7 569.8 C619.9 574 620.1 569.6 622.9 577.3 C625.8 585 627.1 587.8 629.2 593"/>
<path class="t" d="M595.5 534.9 C596.3 535.7 595.5 534.5 598 537.4 C600.5 540.3 599.7 541.3 603 543.6 C606.3 545.9 605.1 543.9 608 544.4 C610.9 544.8 610.5 544.7 611.7 544.9"/>
<path class="k" d="M611.7 544.9 L629.2 533.6 M611.7 544.9 L614.2 549.8 L620.5 562.3 L640.4 553.8"/>
<g opacity=".6">
<path class="t" d="M610.5 539.1 L629.2 533.9 M611.5 540.1 L629.2 534.6 M611.7 541.4 L628.7 535.4"/>
<path class="t" d="M622.9 561.1 L640.4 553 M624.8 562.3 L641 554.3 M626.1 564.2 L635.4 559.8"/>
</g>
<path class="h" d="M614.2 547.4 L632.9 538.1 M618 557.3 L636.9 548.1"/>
<path class="t" d="M626.9 569.8 C627.7 573.1 627.5 572 629.2 579.8 C630.8 587.5 631 588.6 631.9 593"/>
<path class="w" d="M533.3 590.5 C533.9 593 532.9 592.8 535.1 598 C537.4 603.2 535.6 601.5 540.1 606.1 C544.7 610.7 544.1 608.7 548.9 611.7 C553.6 614.7 552.6 614 554.5 615.2 L556.3 615.7 L563.3 611.7 L564.1 601 L548.9 590.5 Z"/>
<path class="k" d="M554.5 615.2 L553.8 602 L564.1 601 M553.8 602 L538.9 590.5"/>
<path class="k" d="M554.5 615.2 C555.9 619 556.3 618.3 558.8 626.7 C561.3 635.1 560.5 631.7 562 640.4 C563.5 649.1 563.1 644.6 563.3 652.9 C563.5 661.2 563.7 657 562.6 665.3 C561.5 673.7 562.2 670.3 560.1 677.8 C558 685.3 558.8 682 556.3 687.8 C553.8 693.6 554 691.5 552.6 695.3 C551.2 699 552.3 697.8 552.1 699" style="stroke-width:1.6"/>
<path class="k" d="M552.1 699 C550.2 699.9 551.2 699.3 546.4 701.8 C541.5 704.3 540.5 704.9 537.6 706.5"/>
<path class="k" d="M563.8 641.6 L611.2 614"/>
<path class="t" d="M564.1 643.6 L611.2 615.9"/>
<g opacity=".55">
<path class="h" d="M564.3 646 L611 618.9"/>
<path class="h" d="M564.3 646.8 L611 619.6"/>
<path class="h" d="M564.3 647.5 L611 620.4"/>
<path class="h" d="M564.3 648.3 L611 621.1"/>
</g>
<path class="k" d="M561.3 680.3 L609.2 654.2"/>
<path class="t" d="M561.8 682.3 L609 656.9"/>
<g opacity=".55">
<path class="h" d="M560.8 684.7 L608.7 659"/>
<path class="h" d="M560.8 685.4 L608.7 659.7"/>
<path class="h" d="M560.8 686.2 L608.7 660.5"/>
</g>
<path class="t" d="M558.8 688 L607.5 661.7"/>
<path class="t" d="M583.8 675.6 C585.9 675.5 585.3 676.2 590 675.3 C594.8 674.4 593.4 674.9 598 672.8 C602.6 670.7 601.8 670.3 603.7 669.1"/>
<path class="k" d="M486.5 647.9 C489.8 645.9 483.2 649 496.5 641.9 C509.8 634.8 515.3 632 526.4 626.7 C537.5 621.4 528 625.1 529.9 625.9 C531.8 626.8 529.6 623.5 532.1 629.2 C534.7 634.8 534.6 633.3 537.6 642.9 C540.7 652.5 539.9 647.9 541.4 657.9 C542.9 667.8 543 663.7 542.1 672.8 C541.3 682 541.6 678.6 538.9 685.3 C536.1 691.9 535.6 690.3 533.9 692.8"/>
<path class="t" d="M527.7 628.5 C528.6 628.5 528.3 623.6 530.4 628.4 C532.5 633.2 531.4 633.1 533.9 642.9 C536.4 652.7 536.2 647.9 537.9 657.9 C539.5 667.8 539.5 664.1 538.9 672.8 C538.3 681.6 538.4 678 536.1 684.1 C533.8 690.1 533.4 688.6 532 690.9"/>
<path class="t" d="M533.3 625.4 C535.1 630.4 535.5 629.6 538.9 640.4 C542.2 651.2 541.7 646.6 543.4 657.9 C545 669.1 544.9 664.1 543.9 674.1 C542.8 684.1 542.6 680.9 540.1 687.8 C537.6 694.7 537.6 692.4 536.4 694.7"/>
<path class="t" d="M482.8 609.5 C486.5 608.5 487.3 608.7 494 606.7 C500.6 604.8 497.1 606.1 502.7 603.6 C508.3 601.1 507.4 603 510.8 599.2 C514.2 595.5 512.2 594.7 512.9 592.4"/>
<path class="t" d="M502.7 603.6 L508.9 615.5 L516.7 629.4"/>
<path class="t" d="M520.2 595.5 L526.4 608 L531.4 619.8 L532.9 623.2"/>
<path class="t" d="M533.3 621.2 L547.9 613 M517.7 629.2 L530.4 622.4"/>
<ellipse class="t" cx="520.2" cy="610.5" rx="2.2" ry="2.5" transform="rotate(0 520.2 610.5)"/>
<path class="h" d="M508.3 616.7 L517.9 611.7"/>
<path class="t" d="M516.7 592.4 L521.4 596.7"/>
<path class="k" d="M627.3 591.8 C628.4 596.3 629 596.7 630.4 605.5 C631.9 614.2 631.7 609.6 631.7 617.9 C631.7 626.3 631.7 622.1 630.4 630.4 C629.2 638.7 630.4 635.4 627.9 642.9 C625.4 650.4 625.9 647.5 622.9 652.9 C620 658.3 622.9 655.3 619.2 659.1 C615.5 662.9 614.2 662.6 611.7 664.3"/>
<path class="k" d="M633.5 591.8 C634 596.3 634.6 597.6 634.8 605.5 C635 613.4 634.4 612.1 634.2 615.5"/>
<path class="k" d="M634.2 615.5 L641.9 633.5 L639.2 636 L619.8 658.1"/>
<path class="t" d="M631.1 625.7 L635.4 630.4 L630.7 635.4 M632.3 624.2 L637.7 630.4 L631.7 636.7"/>
<path class="w" d="M601.1 671.1 L616.7 662.5 L633.4 671.3 L632.9 680.9 L624.8 686.3 L623.6 685.9 L601.7 672.8 Z"/>
<path class="k" d="M601.7 671.1 L623.6 678.1 L633.4 671.3 M623.6 678.1 L624.2 686"/>
<path class="t" d="M473.7 696.8 C474.5 695.3 473.3 695.3 476.2 692.4 C479.1 689.5 479.4 690.1 482.4 688.1 C485.4 686 484.2 686.8 485.2 686.2"/>
<ellipse class="t" cx="480.2" cy="701.2" rx="4.5" ry="7.7" transform="rotate(-12 480.2 701.2)"/>
<path class="k" d="M477.4 709.3 C476.8 709.7 473.9 708.4 475.5 710.5 C477.2 712.6 477.6 713 482.4 715.5 C487.2 718 484.5 717.4 489.9 718 C495.3 718.6 492.8 718.4 498.6 717.4 C504.4 716.3 501.9 715.5 507.4 714.9 C512.8 714.3 511.3 714.4 514.8 715.6 C518.4 716.9 517 717.6 518.1 718.6" style="stroke-width:1.6"/>
<path class="k" d="M518.1 718.6 L527.3 713.6 L547.3 701.8" style="stroke-width:1.6"/>
<path class="k" d="M485.2 686.2 C486.7 688.7 486.2 688.7 489.9 693.7 C493.5 698.7 491.1 697.2 496.1 701.2 C501.1 705.1 498.6 703.9 504.9 705.5 C511.1 707.2 508.2 706.8 514.8 706.1 C521.5 705.5 519.4 706.1 524.8 703.7 C530.2 701.2 528 702.3 531.1 698.7 C534.1 695 533 694.8 533.9 692.8"/>
<path class="t" d="M487.6 684.9 C489.6 688.7 488.7 690.4 493.6 696.2 C498.5 702 496.1 699.8 502.4 702.4 C508.6 705 505.7 704.1 512.3 703.9 C519 703.7 516.7 704.2 522.3 701.8 C527.9 699.4 525.9 700.4 529.2 696.8 C532.4 693.2 531.1 692.9 532 690.9"/>
<ellipse class="t" cx="519.8" cy="709.9" rx="2.1" ry="2.2" transform="rotate(0 519.8 709.9)"/>
<path class="t" d="M514.8 707.4 L516.3 715.5 M522.3 702.4 L526.1 706.8 L532.3 703.7"/>
<path class="t" d="M507.4 714.9 L514.8 710.5 L516.3 715.5"/>
<!-- FAN -->
<ellipse class="w" cx="689.3" cy="513.1" rx="82.4" ry="46.8" transform="rotate(59.5 689.3 513.1)"/>
<path class="w" d="M654.9 439.9 L670.6 430.9 L670.6 430.9 C672 431.8 671.8 431.1 674.8 433.7 C677.9 436.3 677.1 435.6 679.8 438.7 C682.6 441.7 682 441.5 683.1 442.9 L674.8 446.1 Z"/>
<path class="w" d="M683.1 448.6 L683.1 442.9 L696.8 435.2 L696.8 435.2 C698.2 436.8 698.1 435.8 701 439.9 C703.9 444 703.2 442 705.5 447.4 C707.8 452.8 707.4 451.1 708 456.1 C708.6 461.1 707.5 460.3 707.3 462.4 L699.8 462.4 Z"/>
<path class="w" d="M708 467.4 L708 462.9 L723 454.6 L723 454.6 C724.2 456.4 725 455.6 726.7 459.9 C728.5 464.1 728.5 462.8 728.2 467.4 C728 471.9 728.8 470.1 726 473.6 C723.1 477.1 721.8 476.4 719.7 477.8 L714.7 479.8 Z"/>
<path class="h" d="M709.3 465.4 L723.5 457.1"/>
<path class="w" d="M727.2 496 L727.2 490.3 L732.2 491.3 L745.9 486.1 L745.9 486.1 C746.3 488.1 748.2 488.1 746.9 492.3 C745.7 496.5 746.3 495 742.2 498.5 C738.1 502.1 737.2 501.5 734.7 503 L731 504.8 Z"/>
<path class="h" d="M732.2 493.8 L746.2 487.3"/>
<path class="t" d="M727.2 490.3 C727.9 489.7 727.6 488.2 729.2 488.6 C730.9 488.9 731.2 490.4 732.2 491.3"/>
<path class="w" d="M736.7 507.3 C738.2 509 738.4 508.7 741.2 512.5 C743.9 516.3 742.4 515.2 744.9 518.7 C747.4 522.2 747.4 521.6 748.7 523 L758.7 521.2 L757.9 523.7 L743.7 531.5 L740.2 528.5 Z"/>
<path class="h" d="M748.9 524.5 L757.7 522.5"/>
<path class="w" d="M743.7 539.7 C744.5 541.4 744.1 541.5 746.2 544.9 C748.3 548.3 747 547.3 749.9 549.9 C752.8 552.6 753.2 551.9 754.9 552.9 L758.4 552.7 L757.4 554.9 L743.7 562.6 L741.7 559.6 Z"/>
<path class="h" d="M749.7 551.4 L757.2 553.7"/>
<path class="w" d="M739.2 567.6 L742.4 569.9 L745.4 574.1 L731.2 582.4 L736 574.6 Z"/>
<ellipse class="w" cx="686.2" cy="514.3" rx="82.4" ry="46.8" transform="rotate(59.5 686.2 514.3)"/>
<ellipse class="t" cx="685.6" cy="515.4" rx="37.6" ry="20.9" transform="rotate(58 685.6 515.4)"/>
<path class="t" d="M677.4 509.9 C677.3 506.1 677.8 506.5 679.7 503.4 C681.5 500.3 681.3 500.7 683 500.5 C684.8 500.4 682.8 502.4 684.9 503 C687 503.7 686.4 501.9 689.3 502.4 C692.2 502.9 691.3 502.7 693.6 504.4 C696 506.1 694.7 502.9 696.4 507.6 C698 512.4 698.5 513.7 698.6 518.6 C698.8 523.5 698.1 520.7 696.9 522.4 C695.6 524 696.8 522.8 694.9 523.6 C693 524.4 694 524.6 691.1 524.9 C688.2 525.1 689.1 525.9 686.1 524.2 C683.2 522.6 684.5 523 682.4 519.9 C680.3 516.8 681.6 518.2 679.9 514.9 C678.2 511.6 677.5 513.7 677.4 509.9Z"/>
<path class="k" d="M683 509.9 C683.2 506.1 682.6 507 684.3 504.9 C685.9 502.8 685.3 502.8 688 503.7 C690.7 504.5 690.1 504.1 692.4 507.4 C694.7 510.7 694 509.5 694.9 513.6 C695.7 517.8 695.9 517 694.9 519.9 C693.8 522.8 694.3 521.7 691.8 522.4 C689.3 523 690.1 523.8 687.4 521.7 C684.7 519.7 685.1 520.1 683.7 516.1 C682.2 512.2 682.8 513.6 683 509.9Z"/>
<path class="t" d="M684.9 516.1 L692.4 511.8 M693 510.5 L703 505.5"/>
<path class="t" d="M666.8 483.7 L681.2 501.2 M668.4 483.2 L683 500.2 M684.9 486.2 L684.9 502.4 M686.8 486.8 L686.8 502.4 M659.3 501.2 L677.4 509.9 M660 499.7 L678 508.6 M666.8 525.5 L680.5 517.4 M667.7 526.9 L681.8 518.6 M684.9 524.9 L685.5 546.1 M686.9 524.9 L687.4 546.3 M691.1 525.5 L702.4 547.3 M693 524.9 L704.2 546.7 M696.1 521.1 L711.1 529.2 M697.4 519.9 L711.7 528 M693.6 509.9 L703.6 504.9 M694.9 511.1 L704.2 506.4"/>
<path class="h" d="M668.9 484.9 C671.3 486.6 672.1 485.8 676.2 489.9 C680.2 494.1 679.5 494.9 681.2 497.4"/>
<path class="h" d="M686.8 488.7 C687.8 490.8 689.1 490.6 689.9 494.9 C690.7 499.3 689.5 499.5 689.3 501.8"/>
<path class="h" d="M661.5 501.8 C664.7 502.4 665.9 501.6 671.2 503.7 C676.5 505.7 675.3 506.6 677.4 508"/>
<path class="h" d="M687.4 526.1 C688 529 689.1 528.6 689.3 534.8 C689.4 541.1 688.4 541.5 687.9 544.8"/>
<path class="h" d="M693.6 526.1 C695.7 529 697.3 529.4 699.9 534.8 C702.4 540.2 700.9 539.8 701.4 542.3"/>
<path class="t" d="M689.9 501.2 C692 502.4 692.4 500.7 696.1 504.9 C699.9 509.1 699 508.6 701.1 513.6 C703.2 518.6 701.9 517.8 702.4 519.9"/>
<path class="h" d="M688.6 503 C690.7 504.1 691.6 502.6 694.9 506.1 C698.2 509.7 697 509.2 698.6 513.6 C700.3 518 699.5 517.5 699.9 519.4"/>
<path class="k" d="M750.9 465.4 C749.8 467.3 748.6 466.7 747.7 471.1 C746.8 475.5 746.5 474.2 748.2 478.6 C749.8 483 749.3 481.8 752.7 484.3 C756 486.8 755 487.1 758.2 486.1 C761.3 485 761 485.6 762.1 481.1 C763.3 476.5 763.1 477.3 761.6 472.3 C760.1 467.4 759 468.2 757.7 466.1" style="stroke-width:1.6"/>
<path class="t" d="M751.2 467.9 C750.7 469.5 749.9 469.3 749.7 472.8 C749.4 476.4 749.1 475.3 750.4 478.6 C751.8 481.9 751.3 481.1 753.7 482.8 C756.1 484.6 755.5 484.8 757.7 483.8 C759.8 482.8 759.5 483.5 760.1 479.8 C760.8 476.2 760.8 476.8 759.6 472.8 C758.5 468.8 757.7 469.5 756.7 467.9"/>
<path class="k" d="M749.7 465.4 L750.7 462.4 L753.2 462.4 L753.7 465.4 M755.2 465.9 L756.2 463.4 L758.7 464.4 L758.2 466.9"/>
<!-- S8 W7 G6 -->
<path class="w" d="M569.1 395 L569.4 406.2 L571.1 407.9 L573.9 407.9 L575.6 406.2 L575.6 395 Z"/>
<path class="k" d="M569.4 398.9 L575.6 398.2 M569.4 400.7 L575.6 399.9 M569.4 402.4 L575.6 401.7 M569.4 404.2 L575.6 403.4 M569.6 405.9 L575.4 405.2"/>
<path class="w" d="M567.9 391.8 L568.1 395.6 L569.9 397.2 L574.9 397.2 L576.9 395.6 L577 391.8 Z"/>
<ellipse class="w" cx="572.4" cy="391.8" rx="4.6" ry="2.7" transform="rotate(0 572.4 391.8)"/>
<ellipse class="t" cx="572.4" cy="392" rx="2.1" ry="1.4" transform="rotate(0 572.4 392)"/>
<ellipse class="k" cx="572.4" cy="420.9" rx="5.1" ry="3.1" transform="rotate(0 572.4 420.9)" style="stroke-width:1.8"/>
<ellipse class="t" cx="572.4" cy="420.9" rx="2.5" ry="1.5" transform="rotate(0 572.4 420.9)"/>
<path class="w" d="M546.3 463.6 L567.5 448.5 A20 11.5 0 0 1 598.5 463.1 L577.3 478.2 A20 11.5 0 0 1 546.3 463.6Z" style="stroke-width:1.6"/>
<path class="t" d="M548.2 464.5 L569.4 449.5 A17.5 10.1 0 0 1 596.5 462.2 L575.3 477.3 A17.5 10.1 0 0 1 548.2 464.5Z"/>
<path class="k" d="M550.5 465.6 L571.8 450.6 A14.5 8.4 0 0 1 594.2 461.1 L573 476.2 A14.5 8.4 0 0 1 550.5 465.6Z"/>
<path class="t" d="M556.4 467.7 L576.4 453.5 A7.7 4.5 0 0 1 588.4 459.2 L568.4 473.4 A7.7 4.5 0 0 1 556.4 467.7Z"/>
<path class="t" d="M567.4 465.1 L570.5 461.1 L573.9 462.9 L572.1 467.9 L569.3 468.3 Z"/>
<path class="h" d="M559.9 471.7 C561.6 470.6 562.4 469.8 564.9 468.5 C567.4 467.3 566.6 468.1 567.4 467.9"/>
<path class="h" d="M574.9 462.3 C576.5 461.5 577.2 460.6 579.9 459.8 C582.6 459.1 582.6 459.2 583 460.1 C583.4 460.9 583.4 460.8 581.1 462.3 C578.8 463.8 577.8 463.8 576.1 464.6"/>
<!-- DAMPERS -->
<path class="w" d="M496.1 468.7 C494 469.9 494.4 469.9 489.8 472.4 C485.3 474.9 487.4 473.7 482.4 476.1 C477.4 478.6 479.9 476.6 474.9 479.9 C469.9 483.2 472.4 482 467.4 486.1 C462.4 490.3 463.7 490 459.9 492.4 C456.2 494.7 457.4 492.9 456.2 493.1"/>
<path class="w" d="M456.2 493.1 C451.6 490.4 447.9 489.3 442.5 484.9 C437 480.5 440.6 484.9 440 479.9 C439.3 474.9 438.9 476.6 440.6 469.9 C442.2 463.3 441 466 444.9 459.9 C448.9 453.9 447.4 455.4 452.4 451.8 C457.4 448.3 456.1 450 459.9 449.3 C463.7 448.7 462.6 449.7 463.9 450 L496.1 468.7 L496.1 468.7 C494 469.9 494.4 469.9 489.8 472.4 C485.3 474.9 487.4 473.7 482.4 476.1 C477.4 478.6 479.9 476.6 474.9 479.9 C469.9 483.2 472.4 482 467.4 486.1 C462.4 490.3 463.7 490 459.9 492.4 C456.2 494.7 457.4 492.9 456.2 493.1 Z" style="stroke-width:1.5"/>
<path class="t" d="M457.4 492.1 C459.9 490.6 459.5 491.2 464.9 487.6 C470.3 484 469.1 486 473.6 481.4 C478.2 476.8 474.5 478.3 478.6 473.9 C482.8 469.5 480.7 469.8 486.1 468.2 C491.5 466.5 491.9 468.7 494.8 468.9"/>
<path class="h" d="M461.2 490.5 C464.1 488.8 465.3 488.6 469.9 485.5 C474.5 482.4 473.2 482.6 474.9 481.1"/>
<path class="h" d="M478.6 473.9 L484.9 474.9 M482.4 471.2 L483.6 476.4 M487.4 468.4 L489.8 472.2"/>
<g opacity=".7">
<path class="t" d="M458.7 491.1 L469.9 484.9 M459.3 489.9 L469.3 484.3 M460.5 488.9 L468 484.4"/>
</g>
<path class="w" d="M324.9 606.7 C324 605.1 323.4 605.7 322.2 601.7 C321 597.8 320.9 600.1 321.2 594.9 C321.5 589.7 320.6 592 323.1 586.1 C325.6 580.3 324.3 582.2 328.7 577.4 C333.1 572.6 331.6 574.1 336.2 571.8 C340.7 569.5 338.7 570.6 342.4 570.6 C346.1 570.6 342 569.5 347.4 571.8 C352.8 574.1 352 572.6 358.6 577.4 C365.3 582.2 362.4 579.9 367.4 586.1 C372.3 592.4 370.3 589.1 373.6 596.1 C376.9 603.2 376.9 601.5 377.3 607.4 C377.7 613.2 377.3 609.4 374.8 613.6 C372.3 617.7 374 616.1 369.8 619.8 C365.7 623.6 366.9 623.1 362.4 624.8 C357.8 626.6 358.2 625 356.1 625.1 Z" style="stroke-width:1.5"/>
<path class="t" d="M337.4 589.9 C337.8 582.8 337.8 585.5 341.2 581.2 C344.5 576.8 343.2 578 347.4 576.8 C351.6 575.5 348.6 575.1 353.6 577.4 C358.6 579.7 357 578.2 362.4 583.7 C367.8 589.1 365.7 586.6 369.8 593.6 C374 600.7 373.5 598.2 374.8 604.9 C376.2 611.5 375.9 608.6 373.8 613.6 C371.8 618.6 372.4 616.6 368.6 619.8 C364.8 623.1 366.5 622.6 362.4 623.3 C358.2 624.1 361.1 624.9 356.1 622.1 C351.1 619.2 352.8 621.4 347.4 614.8 C342 608.3 343.2 610.7 339.9 602.4 C336.6 594 337 597 337.4 589.9Z"/>
<path class="k" d="M347.1 595.6 L354.9 589.9 L364.9 606.1 L356.8 612.3 Z" style="stroke-width:1.15"/>
<path class="h" d="M347.1 595.6 L364.9 606.1"/>
<path class="k" d="M341.2 588 C341.6 585.2 341.6 584.1 343.7 583 C345.7 582 346.6 582.6 347.4 584.9 C348.2 587.2 347.8 587.7 346.1 589.9 C344.5 592.1 344.1 592 342.4 591.4 C340.7 590.8 340.7 590.8 341.2 588Z" style="stroke-width:1.15"/>
<path class="k" d="M348.6 581.2 C350.1 579.5 351.3 579.3 353.6 579.9 C355.9 580.5 356.1 580.6 355.5 583 C354.9 585.4 353.8 586.5 351.8 587.1 C349.7 587.8 350.3 586.9 349.3 584.9 C348.2 582.9 347.2 582.8 348.6 581.2Z" style="stroke-width:1.15"/>
<path class="k" d="M358.6 584.9 C358.6 581.8 358.6 582 361.1 583.7 C363.6 585.3 365.1 586.6 366.1 589.9 C367.1 593.2 365.9 592.6 364.2 593.6 C362.6 594.7 363 595.9 361.1 593 C359.2 590.1 358.6 588 358.6 584.9Z" style="stroke-width:1.15"/>
<path class="k" d="M365.5 598 C366.1 594.9 367.1 594.5 369.8 596.8 C372.5 599 372.8 600.9 373.6 604.9 C374.4 608.8 374.2 608.2 372.3 608.6 C370.5 609 370.3 609.6 368 606.1 C365.7 602.6 364.9 601.1 365.5 598Z" style="stroke-width:1.15"/>
<path class="k" d="M366.7 614.8 C367.8 612.3 368.4 612.8 370.5 612.3 C372.5 611.9 373.2 611.5 373 613.6 C372.8 615.7 371.7 616.5 369.8 618.6 C368 620.7 368.4 621.1 367.4 619.8 C366.3 618.6 365.7 617.3 366.7 614.8Z" style="stroke-width:1.15"/>
<path class="k" d="M358.6 618.6 C359.2 616.5 359.7 616.3 361.7 616.1 C363.8 615.9 364.2 616.1 364.9 618 C365.5 619.8 365.3 620.2 363.6 621.7 C361.9 623.2 361.5 623.4 359.9 622.3 C358.2 621.3 358 620.7 358.6 618.6Z" style="stroke-width:1.15"/>
<path class="k" d="M346.1 609.8 C345.9 607.1 346.8 606.9 349.3 608.6 C351.8 610.3 351.8 611.3 353.6 614.8 C355.5 618.4 356.1 618.6 354.9 619.2 C353.6 619.8 352.8 619.8 349.9 616.7 C347 613.6 346.4 612.5 346.1 609.8Z" style="stroke-width:1.15"/>
<path class="k" d="M340.5 596.1 C341.2 592.8 341.6 592.8 343.7 594.9 C345.7 597 345.9 599 346.8 602.4 C347.6 605.7 347.8 604 346.1 604.9 C344.5 605.7 343.7 607.8 341.8 604.9 C339.9 601.9 339.9 599.5 340.5 596.1Z" style="stroke-width:1.15"/>
<path class="w" d="M637.9 657.2 C638.5 652.7 637.7 653.9 641 649.1 C644.4 644.3 642.7 645.8 647.9 642.9 C653.1 640 652.5 641 656.6 640.4 C660.8 639.8 654.2 638 660.4 641 C666.5 644 665.3 643.8 675.1 649.4 C684.9 655 683.4 653 689.7 657.9 C696 662.8 692.4 659.1 694 664.1 C695.7 669.1 695.5 666.6 694.7 672.8 C693.8 679.1 694.7 677 691.5 682.8 C688.4 688.6 689.9 686.3 685.3 690.3 C680.7 694.2 682.8 692.8 677.8 694.7 C672.8 696.5 674.3 696.5 670.3 695.9 C666.4 695.3 672.6 697.1 666 692.8 C659.3 688.4 657.7 689.5 650.4 682.8 C643.1 676.2 647.9 679.5 644.1 672.8 C640.4 666.2 641.2 668 639.2 662.8 C637.1 657.6 637.3 661.8 637.9 657.2Z" style="stroke-width:1.5"/>
<ellipse class="t" cx="679.1" cy="677.1" rx="20" ry="13.3" transform="rotate(-60 679.1 677.1)"/>
<ellipse class="t" cx="678.3" cy="677.4" rx="18.8" ry="12.5" transform="rotate(-60 678.3 677.4)"/>
<ellipse class="t" cx="677.7" cy="677.8" rx="17.8" ry="11.7" transform="rotate(-60 677.7 677.8)"/>
<ellipse class="t" cx="679.7" cy="676.6" rx="12.5" ry="8.5" transform="rotate(-60 679.7 676.6)"/>
<ellipse class="t" cx="679.7" cy="676.6" rx="8.5" ry="5.7" transform="rotate(-60 679.7 676.6)"/>
<path class="w" d="M657.5 718.6 C654.6 714.1 659.1 718.2 664.9 714.9 C670.8 711.6 667.4 714 674.9 708.6 C682.4 703.2 681.2 703.2 687.4 698.7 C693.6 694.1 689.9 696.4 693.6 694.9 C697.4 693.5 693.2 692.2 698.6 694.3 C704 696.4 704.9 696.8 709.8 701.2 C714.8 705.5 712.1 702.8 713.6 707.4 C715 712 715 709.1 714.2 714.9 C713.4 720.7 714.2 718.6 711.1 724.9 C708 731.1 709.4 729.2 704.9 733.6 C700.3 738 702.4 736.5 697.4 738 C692.4 739.4 697.8 741.2 689.9 738 C682 734.8 684.5 734.8 673.7 728.4 C662.9 721.9 660.4 723.1 657.5 718.6Z" style="stroke-width:1.5"/>
<path class="k" d="M657.5 718.6 L689.9 738" style="stroke-width:1.5"/>
<path class="k" d="M657.5 718.6 C660.2 717.4 659.7 718.1 665.6 714.9 C671.5 711.6 672 710.9 675.2 708.9" style="stroke-width:2.2"/>
<ellipse class="t" cx="699" cy="718.4" rx="20.1" ry="13.3" transform="rotate(-60 699 718.4)"/>
<ellipse class="t" cx="698.2" cy="718.7" rx="19" ry="12.5" transform="rotate(-60 698.2 718.7)"/>
<ellipse class="t" cx="697.6" cy="719.1" rx="18" ry="11.7" transform="rotate(-60 697.6 719.1)"/>
<ellipse class="t" cx="699.6" cy="717.9" rx="12.5" ry="8.5" transform="rotate(-60 699.6 717.9)"/>
<ellipse class="t" cx="699.6" cy="717.9" rx="8.5" ry="5.7" transform="rotate(-60 699.6 717.9)"/>
<!-- BEARINGS -->
<ellipse class="w" cx="533.3" cy="778.2" rx="28.4" ry="18.7" transform="rotate(64 533.3 778.2)" style="stroke-width:1.5"/>
<path class="w" d="M506.8 759.9 L520.8 752.7 L545.7 803.8 L531.8 811 Z" style="stroke:none"/>
<path class="k" d="M506.8 759.9 L520.8 752.7 M545.7 803.8 L531.8 811" style="stroke-width:1.5"/>
<ellipse class="w" cx="519.3" cy="785.5" rx="28.4" ry="18.7" transform="rotate(64 519.3 785.5)" style="stroke-width:1.5"/>
<ellipse class="t" cx="519.3" cy="785.5" rx="24.4" ry="16" transform="rotate(64 519.3 785.5)"/>
<ellipse class="t" cx="518.5" cy="785.2" rx="19" ry="12.5" transform="rotate(64 518.5 785.2)"/>
<ellipse class="t" cx="518.8" cy="785.2" rx="17" ry="11" transform="rotate(64 518.8 785.2)"/>
<ellipse class="k" cx="518.8" cy="785" rx="12" ry="7.6" transform="rotate(64 518.8 785)"/>
<ellipse class="w" cx="570.4" cy="756.2" rx="19.7" ry="13.1" transform="rotate(64 570.4 756.2)" style="stroke-width:1.5"/>
<path class="w" d="M554.3 742.4 L561.8 738.5 L579.1 773.9 L571.6 777.9 Z" style="stroke:none"/>
<path class="k" d="M554.3 742.4 L561.8 738.5 M579.1 773.9 L571.6 777.9" style="stroke-width:1.5"/>
<ellipse class="w" cx="562.9" cy="760.2" rx="19.7" ry="13.1" transform="rotate(64 562.9 760.2)" style="stroke-width:1.5"/>
<ellipse class="t" cx="562.9" cy="760.2" rx="17.5" ry="11.5" transform="rotate(64 562.9 760.2)"/>
<ellipse class="t" cx="562.4" cy="760.2" rx="14" ry="9.1" transform="rotate(64 562.4 760.2)"/>
<ellipse class="k" cx="562.7" cy="760.2" rx="11.5" ry="7.4" transform="rotate(64 562.7 760.2)"/>
<ellipse class="t" cx="563.4" cy="759.9" rx="8" ry="5" transform="rotate(64 563.4 759.9)"/>
<path class="k" d="M566.1 753.1 C567.1 754.5 568 754.3 569.2 757.4 C570.3 760.5 569.4 760.7 569.6 762.4" style="stroke-width:2"/>
<ellipse class="w" cx="608.4" cy="734.2" rx="23.4" ry="15.5" transform="rotate(64 608.4 734.2)" style="stroke-width:1.5"/>
<path class="w" d="M587.1 719.1 L598.1 713.1 L618.7 755.2 L607.7 761.2 Z" style="stroke:none"/>
<path class="k" d="M587.1 719.1 L598.1 713.1 M618.7 755.2 L607.7 761.2" style="stroke-width:1.5"/>
<ellipse class="w" cx="597.4" cy="740.1" rx="23.4" ry="15.5" transform="rotate(64 597.4 740.1)" style="stroke-width:1.5"/>
<ellipse class="t" cx="597.4" cy="740.1" rx="20.7" ry="13.5" transform="rotate(64 597.4 740.1)"/>
<ellipse class="t" cx="596.9" cy="740.1" rx="16.5" ry="10.7" transform="rotate(64 596.9 740.1)"/>
<ellipse class="t" cx="597.2" cy="740.1" rx="14.5" ry="9.5" transform="rotate(64 597.2 740.1)"/>
<ellipse class="k" cx="597.4" cy="739.9" rx="10.2" ry="6.5" transform="rotate(64 597.4 739.9)"/>
<path class="w" d="M656 750.9 L550.4 810.8 L552 813.6 L657.6 753.7 Z" style="stroke-width:1.1"/>
<g opacity=".9">
<path class="t" d="M551 810.4 L552 813.6 M552.1 809.8 L553.1 813 M553.2 809.2 L554.2 812.4 M554.3 808.6 L555.2 811.8 M555.4 808 L556.3 811.2 M556.5 807.4 L557.4 810.5 M557.5 806.7 L558.5 809.9 M558.6 806.1 L559.6 809.3 M559.7 805.5 L560.7 808.7 M560.8 804.9 L561.7 808.1 M561.9 804.3 L562.8 807.5 M563 803.7 L563.9 806.9 M564.1 803 L565 806.2 M565.1 802.4 L566.1 805.6 M566.2 801.8 L567.2 805 M567.3 801.2 L568.3 804.4 M568.4 800.6 L569.3 803.8 M569.5 800 L570.4 803.2 M570.6 799.4 L571.5 802.5 M571.6 798.7 L572.6 801.9" style="stroke-width:.8"/>
</g>
<ellipse class="w" cx="658.2" cy="752.3" rx="3.2" ry="2.7" transform="rotate(-30 658.2 752.3)"/>
<ellipse class="w" cx="659.4" cy="751.3" rx="3.2" ry="2.7" transform="rotate(-30 659.4 751.3)"/>
<ellipse class="h" cx="659.4" cy="751.3" rx="1.7" ry="1.4" transform="rotate(-30 659.4 751.3)"/>
<path class="w" d="M671.7 759.6 L565.4 819.5 L566.9 822.4 L673.3 762.5 Z" style="stroke-width:1.1"/>
<g opacity=".9">
<path class="t" d="M566 819.2 L566.9 822.4 M567.1 818.5 L568 821.7 M568.2 817.9 L569.1 821.1 M569.3 817.3 L570.2 820.5 M570.4 816.7 L571.3 819.9 M571.4 816.1 L572.4 819.3 M572.5 815.5 L573.5 818.7 M573.6 814.9 L574.6 818.1 M574.7 814.3 L575.6 817.5 M575.8 813.7 L576.7 816.8 M576.9 813 L577.8 816.2 M578 812.4 L578.9 815.6 M579 811.8 L580 815 M580.1 811.2 L581.1 814.4 M581.2 810.6 L582.2 813.8 M582.3 810 L583.2 813.2 M583.4 809.4 L584.3 812.6 M584.5 808.8 L585.4 811.9 M585.6 808.1 L586.5 811.3 M586.7 807.5 L587.6 810.7" style="stroke-width:.8"/>
</g>
<ellipse class="w" cx="673.9" cy="761.1" rx="3.2" ry="2.7" transform="rotate(-30 673.9 761.1)"/>
<ellipse class="w" cx="675.2" cy="760.1" rx="3.2" ry="2.7" transform="rotate(-30 675.2 760.1)"/>
<ellipse class="h" cx="675.2" cy="760.1" rx="1.7" ry="1.4" transform="rotate(-30 675.2 760.1)"/>
<path class="w" d="M686.7 767.7 L580.8 828.8 L582.4 831.6 L688.3 770.5 Z" style="stroke-width:1.1"/>
<g opacity=".9">
<path class="t" d="M581.5 828.4 L582.4 831.6 M582.5 827.8 L583.5 831 M583.6 827.1 L584.6 830.3 M584.7 826.5 L585.7 829.7 M585.8 825.9 L586.7 829.1 M586.9 825.3 L587.8 828.5 M587.9 824.7 L588.9 827.8 M589 824 L590 827.2 M590.1 823.4 L591.1 826.6 M591.2 822.8 L592.1 826 M592.3 822.2 L593.2 825.3 M593.3 821.5 L594.3 824.7 M594.4 820.9 L595.4 824.1 M595.5 820.3 L596.5 823.5 M596.6 819.7 L597.5 822.8 M597.7 819 L598.6 822.2 M598.7 818.4 L599.7 821.6 M599.8 817.8 L600.8 821 M600.9 817.2 L601.9 820.3 M602 816.5 L602.9 819.7" style="stroke-width:.8"/>
</g>
<ellipse class="w" cx="688.9" cy="769.1" rx="3.2" ry="2.7" transform="rotate(-30 688.9 769.1)"/>
<ellipse class="w" cx="690.1" cy="768.1" rx="3.2" ry="2.7" transform="rotate(-30 690.1 768.1)"/>
<ellipse class="h" cx="690.1" cy="768.1" rx="1.7" ry="1.4" transform="rotate(-30 690.1 768.1)"/>
<path class="w" d="M701.6 776.6 L595.8 837.5 L597.4 840.3 L703.2 779.4 Z" style="stroke-width:1.1"/>
<g opacity=".9">
<path class="t" d="M596.4 837.1 L597.4 840.3 M597.5 836.5 L598.5 839.7 M598.6 835.9 L599.6 839.1 M599.7 835.3 L600.6 838.4 M600.7 834.6 L601.7 837.8 M601.8 834 L602.8 837.2 M602.9 833.4 L603.9 836.6 M604 832.8 L605 836 M605.1 832.1 L606 835.3 M606.2 831.5 L607.1 834.7 M607.2 830.9 L608.2 834.1 M608.3 830.3 L609.3 833.5 M609.4 829.7 L610.4 832.8 M610.5 829 L611.4 832.2 M611.6 828.4 L612.5 831.6 M612.6 827.8 L613.6 831 M613.7 827.2 L614.7 830.4 M614.8 826.6 L615.8 829.7 M615.9 825.9 L616.9 829.1 M617 825.3 L617.9 828.5" style="stroke-width:.8"/>
</g>
<ellipse class="w" cx="703.8" cy="778" rx="3.2" ry="2.7" transform="rotate(-30 703.8 778)"/>
<ellipse class="w" cx="705.1" cy="777" rx="3.2" ry="2.7" transform="rotate(-30 705.1 777)"/>
<ellipse class="h" cx="705.1" cy="777" rx="1.7" ry="1.4" transform="rotate(-30 705.1 777)"/>
<ellipse class="k" cx="544.2" cy="816.7" rx="2.2" ry="3.5" transform="rotate(-25 544.2 816.7)" style="fill:#777;stroke-width:1.6"/>
<ellipse class="h" cx="544.7" cy="816.5" rx="1" ry="1.7" transform="rotate(-25 544.7 816.5)" style="fill:#ddd"/>
<ellipse class="k" cx="559.2" cy="825.4" rx="2.2" ry="3.5" transform="rotate(-25 559.2 825.4)" style="fill:#777;stroke-width:1.6"/>
<ellipse class="h" cx="559.7" cy="825.2" rx="1" ry="1.7" transform="rotate(-25 559.7 825.2)" style="fill:#ddd"/>
<ellipse class="k" cx="574.4" cy="834.2" rx="2.2" ry="3.5" transform="rotate(-25 574.4 834.2)" style="fill:#777;stroke-width:1.6"/>
<ellipse class="h" cx="574.9" cy="833.9" rx="1" ry="1.7" transform="rotate(-25 574.9 833.9)" style="fill:#ddd"/>
<ellipse class="k" cx="589.8" cy="843.4" rx="2.2" ry="3.5" transform="rotate(-25 589.8 843.4)" style="fill:#777;stroke-width:1.6"/>
<ellipse class="h" cx="590.3" cy="843.1" rx="1" ry="1.7" transform="rotate(-25 590.3 843.1)" style="fill:#ddd"/>
<!-- P9-12 -->
<ellipse class="w" cx="257.4" cy="772.8" rx="37.4" ry="25.9" transform="rotate(52 257.4 772.8)" style="stroke-width:1.5"/>
<path class="w" d="M221.4 752.8 L234.4 743.3 L280.5 802.3 L267.5 811.8 Z" style="stroke:none"/>
<path class="k" d="M221.4 752.8 L234.4 743.3 M280.5 802.3 L267.5 811.8" style="stroke-width:1.5"/>
<ellipse class="t" cx="252.5" cy="776.4" rx="37.4" ry="25.9" transform="rotate(52 252.5 776.4)"/>
<ellipse class="t" cx="254.2" cy="775.2" rx="37.4" ry="25.9" transform="rotate(52 254.2 775.2)"/>
<ellipse class="w" cx="244.4" cy="782.3" rx="37.4" ry="25.9" transform="rotate(52 244.4 782.3)" style="stroke-width:1.5"/>
<ellipse class="t" cx="244.8" cy="783.3" rx="18.5" ry="12.6" transform="rotate(52 244.8 783.3)"/>
<path class="t" d="M236.1 772.8 C237.7 776.8 236.5 777.9 241.1 784.8 C245.6 791.7 244.4 789.8 249.8 793.5 C255.2 797.2 254.8 795.2 257.3 796"/>
<path class="t" d="M239.8 769.8 C241.9 774 241.5 775.6 246 782.3 C250.6 788.9 249.1 786.8 253.5 789.8 C257.9 792.7 257.3 790.6 259.3 791"/>
<path class="h" d="M243.5 768.8 C245.6 772 245.6 773.2 249.8 778.5 C253.9 783.9 253.9 782.7 256 784.8"/>
<ellipse class="w" cx="209.4" cy="803.5" rx="13" ry="9" transform="rotate(62 209.4 803.5)" style="stroke-width:1.5"/>
<ellipse class="t" cx="209.4" cy="803.5" rx="3.7" ry="2.5" transform="rotate(62 209.4 803.5)"/>
<path class="w" d="M181.4 816.2 L197.4 807.2 L200.1 812.5 L184.9 821.9 Z"/>
<path class="t" d="M184.4 815 L187.4 820.2 M186.4 814 L189.4 819.2 M188.4 812.7 L191.4 817.9 M190.4 811.7 L193.4 816.9 M192.4 810.5 L195.4 815.7 M194.4 809.5 L197.4 814.7 M196.4 808.2 L199.1 813.5"/>
<ellipse class="w" cx="177.9" cy="822.2" rx="6" ry="7" transform="rotate(-20 177.9 822.2)" style="stroke-width:1.5"/>
<ellipse class="w" cx="175.9" cy="823.7" rx="5.5" ry="6.5" transform="rotate(-20 175.9 823.7)" style="stroke-width:1.5"/>
<ellipse class="t" cx="175.9" cy="823.7" rx="2.5" ry="3" transform="rotate(-20 175.9 823.7)"/>
<path class="w" d="M278.4 728.7 C279.1 721.7 278.4 724.8 280.8 719 C283.3 713.2 281.7 715.6 285.7 711.3 C289.8 707 287.6 708.6 292.9 706.2 C298.1 703.7 295.5 704.4 301.6 704 C307.7 703.6 304.7 703.3 311.2 705 C317.6 706.7 314.6 705.4 320.9 709 C327.2 712.6 324.4 710.5 330.1 715.8 C335.7 721.1 333.3 718.3 337.9 724.8 C342.4 731.3 340.6 728.1 343.7 735.3 C346.7 742.5 345.7 739.1 347 746.4 C348.4 753.7 348.2 750.4 347.7 757.3 C347.2 764.2 347.8 761.2 345.6 767.1 C343.3 773 344.8 770.6 340.9 775 C337 779.5 339.7 777.2 334 780.5 C328.2 783.7 330.4 782.1 323.6 784.8 C316.8 787.5 319.5 786.7 313.6 788.5 C307.8 790.4 309.9 790 306.2 790.4 C302.4 790.8 302 791.9 302.4 789.8 C302.8 787.7 303.2 788.1 307.4 784.2 C311.6 780.2 314.1 780.2 314.9 777.9 C315.7 775.6 314.9 778.8 309.9 777.3 C304.9 775.9 306.6 777.7 299.9 773.6 C293.3 769.4 295.8 771.9 289.9 764.8 C284.1 757.8 286.1 760.7 282.5 752.4 C278.8 744 280.3 747.8 279 739.9 C277.6 732 277.8 735.6 278.4 728.7Z" style="stroke-width:1.6"/>
<path class="t" d="M281 730.5 C281.9 727.2 280.7 726.3 283.7 720.6 C286.7 714.9 285 717.3 289.9 713.4 C294.9 709.6 292.9 711 298.7 709 C304.5 707 302.2 707.5 307.4 707.5 C312.6 707.4 312 708.3 314.3 708.7"/>
<path class="t" d="M283.7 732.4 C284.5 729.3 283.5 728.5 286.2 723.1 C288.9 717.6 287.2 719.9 291.8 716.2 C296.4 712.5 294.7 713.8 299.9 711.8 C305.1 709.8 303 710.3 307.4 710.2 C311.8 710.1 311.1 711 313 711.5"/>
<path class="k" d="M302.4 726.2 L322.4 714.9 L323.1 716.9 L313.6 722.7"/>
<path class="t" d="M313.6 722.7 C317 727.6 318.2 727.5 323.6 737.4 C329 747.3 326.7 742.4 329.9 752.4 C333 762.3 332.5 758.2 333 767.3 C333.5 776.5 331.9 775.6 331.4 779.8"/>
<path class="t" d="M323.6 710.6 C326.1 714.5 326.7 713.9 331.1 722.4 C335.5 731 333.8 727 336.7 736.1 C339.6 745.3 338.8 741.1 339.8 749.9 C340.9 758.6 340.7 754.9 339.8 762.3 C339 769.8 338.2 769 337.3 772.3"/>
<path class="t" d="M303.7 727.4 C307.4 731.6 309 732.3 314.9 739.9 C320.8 747.5 319.2 746.7 321.4 750.1"/>
<path class="t" d="M306.2 726.2 C309.9 730.3 311.6 731.2 317.4 738.6 C323.1 746.1 321.4 745.3 323.4 748.6"/>
<path class="k" d="M294.3 729.9 C297.4 723.9 296.8 726.9 301.2 726.9 C305.5 726.9 303.2 725.6 307.4 729.9 C311.6 734.2 309.5 734.5 313.6 739.9 C317.8 745.3 317.7 741.1 319.9 746.1 C322 751.1 321.8 749.9 320.1 754.9 C318.5 759.8 319.1 758.2 314.9 761.1 C310.6 764 312 763.2 307.4 763.6 C302.8 764 305.3 764.8 301.2 762.3 C297 759.8 298.1 761.9 294.9 756.1 C291.8 750.3 292 753.6 291.8 744.9 C291.6 736.1 291.2 735.9 294.3 729.9Z"/>
<path class="t" d="M296.8 733 C299 728.2 298.5 730.5 301.8 730.5 C305.1 730.5 303.5 729.5 306.8 733 C310.1 736.6 308.4 736.6 311.8 741.1 C315.1 745.7 315.1 742.6 316.8 746.8 C318.5 750.9 318.1 749.7 316.9 753.6 C315.6 757.6 316.2 756.3 313 758.6 C309.9 760.9 310.9 760.2 307.4 760.5 C303.9 760.7 305.7 761.4 302.4 759.3 C299.2 757.3 300.1 759.1 297.7 754.2 C295.3 749.4 295.5 751.9 295.2 744.9 C294.9 737.8 294.6 737.8 296.8 733Z"/>
<ellipse class="k" cx="308.7" cy="746.1" rx="3" ry="4" transform="rotate(-20 308.7 746.1)"/>
<path class="t" d="M311.4 743.6 L314.9 741.8"/>
<path class="t" d="M323 752.4 L326.1 753.6 L326.7 758 L323.6 757.4 M324.9 762.3 L328 763 L328 768 L325.1 767.3 M324.9 771.1 L328 771.7 L327.4 776.1 L324.6 775.8 M323 777.9 L326.1 779.2 L324.6 782.9 L321.8 782"/>
<path class="t" d="M314.9 777.9 C316.6 777.3 316.6 777.9 319.9 776.1 C323.2 774.2 323.2 773.6 324.9 772.3"/>
<path class="t" d="M307.4 784.8 C309.9 784.2 310.3 784.6 314.9 782.9 C319.5 781.3 319 780.8 321.1 779.8"/>
<path class="h" d="M306.2 787.3 C309.1 786.7 309.5 787.1 314.9 785.4 C320.3 783.8 319.9 783.3 322.4 782.3"/>

<!-- LABELS -->
<g id="labels">
<text class="n" x="352.5" y="247">18</text>
<path class="l" d="M352.5 253 L352.5 275 M424.5 296 L424.5 320.5"/>
<text class="n" x="275" y="291.5">18</text>
<path class="l" d="M274.3 297 L274.3 319.6 M350.7 339.3 L350.7 363.4 M268.7 387.3 L268.7 410.4"/>
<text class="n" x="269.8" y="382">,</text>
<text class="n" x="193" y="337">18</text>
<text class="n" x="109.3" y="386.5">18</text>
<text class="n" x="186.2" y="428.8">13</text>
<path class="l" d="M192.5 343 L192.5 364.8 M109.5 390.6 L109.5 405 M185.3 434.3 L185.3 448.6"/>
<text class="n" x="602" y="384.5">8</text>
<text class="n" x="602" y="410.5">7</text>
<text class="n" x="622" y="439.8">6</text>
<text class="n" x="796.3" y="496.8">4</text>
<text class="n" x="795.3" y="563.4">3</text>
<text class="n" x="412" y="505.6">5</text>
<text class="n" x="387.6" y="567">5</text>
<text class="n" x="705" y="638.5">5</text>
<text class="n" x="738.3" y="685.6">5</text>
<text class="n" x="190.9" y="736.9">12</text>
<text class="n" x="276" y="849.6">11</text>
<text class="n" x="252.3" y="863.8">10</text>
<text class="n" x="362.5" y="850.1">9</text>
<path class="l" d="M578 392.5 L591.7 384.4 M578 418 L591.7 410.5 M599.2 446.7 L612.9 438.6 M765.9 479.3 L786.6 490.3 M752.7 537.2 L785.8 555.9 M421.1 497.5 L439.6 487.2 M361.1 576.8 L379.2 566.2 M678.4 649.1 L696.5 638.5 M711.1 697.4 L729.8 686.8 M202.9 737.9 L222.3 749.3 M220.3 815.5 L263.5 839.6 M191.2 824.7 L241.1 852.9 M340.8 832.7 L354.6 839.6 M662.2 820.9 L677.2 829.7 M723.3 844.6 L744.5 857.1"/>
<path class="f" d="M351.6 761.8 L405.8 793.2 L272.2 871.6 L262.3 865.8 M294.7 858.4 L284.7 852.1"/>
<text class="n" x="753" y="867">1</text>
<text class="n" x="686" y="837">2</text>
</g>

<!-- DOCID -->
<text transform="translate(847.8,905) rotate(-90)" style="font-family:'Liberation Sans',sans-serif;font-size:8px;fill:#555;">0-GET-0089-A0</text>

</svg>
</body>
</html>
